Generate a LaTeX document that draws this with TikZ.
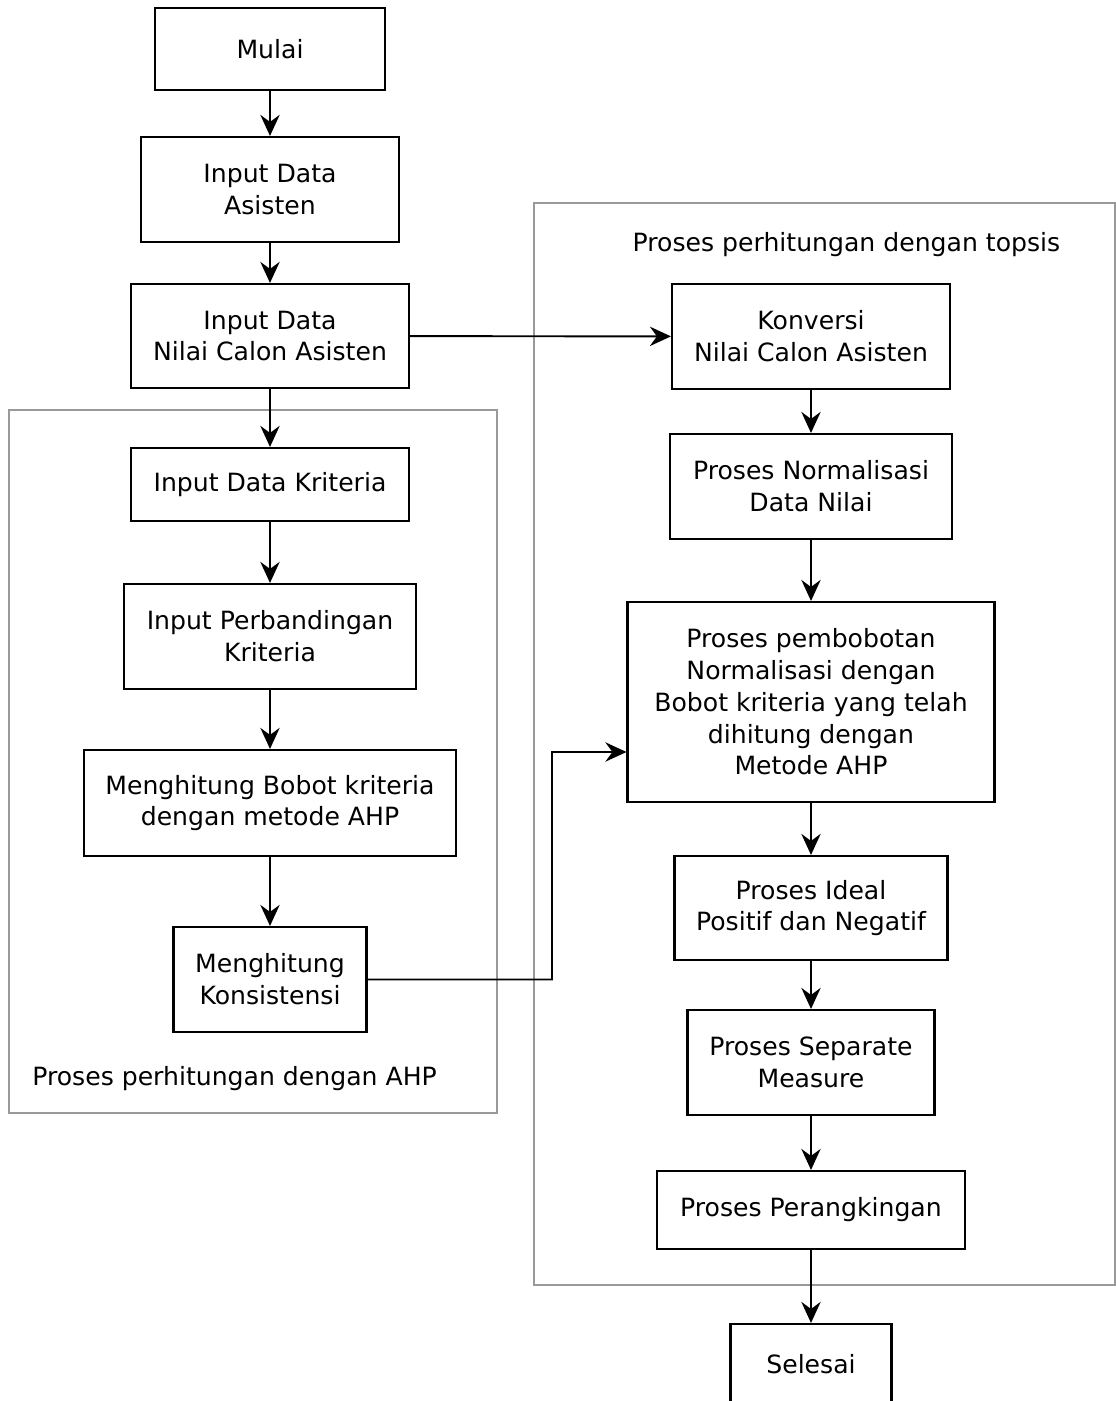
\documentclass[tikz,border=0pt]{standalone}
\usepackage{fontspec}
\setmainfont{DejaVu Sans}
\usetikzlibrary{arrows.meta}

\begin{document}
\begin{tikzpicture}[x=0.02cm,y=-0.02cm,
  font=\fontsize{14.3}{18.1}\selectfont,
  box/.style={draw,line width=1.2pt,align=center,inner sep=2pt},
  frame/.style={draw=black!40,line width=0.9pt,inner sep=0pt},
  conn/.style={draw,line width=1.1pt,-{Stealth[length=12pt,width=11pt,inset=4pt]}}]
\useasboundingbox (0,0) rectangle (1116,1401);

% the two groups
\node[frame,minimum width=9.76cm,minimum height=14.06cm] (ahpframe) at (253,761.5) {};
\node[frame,minimum width=11.62cm,minimum height=21.64cm] (topsisframe) at (824.5,744) {};
\node (topsislabel) at (846.5,245) {Proses perhitungan dengan topsis};
\node[anchor=west,inner sep=0pt] (ahplabel) at (32,1079) {Proses perhitungan dengan AHP};

% left column
\node[box,minimum width=4.6cm,minimum height=1.64cm] (mulai) at (270,49) {Mulai};
\node[box,minimum width=5.16cm,minimum height=2.1cm] (asisten) at (270,189.5) {Input Data\\Asisten};
\node[box,minimum width=5.56cm,minimum height=2.08cm] (nilai) at (270,336) {Input Data\\Nilai Calon Asisten};
\node[box,minimum width=5.56cm,minimum height=1.46cm] (kriteria) at (270,484.5) {Input Data Kriteria};
\node[box,minimum width=5.84cm,minimum height=2.1cm] (banding) at (270,636.5) {Input Perbandingan\\Kriteria};
\node[box,minimum width=7.44cm,minimum height=2.12cm] (bobot) at (270,803) {Menghitung Bobot kriteria\\dengan metode AHP};
\node[box,minimum width=3.86cm,minimum height=2.1cm] (konsistensi) at (270,979.5) {Menghitung\\Konsistensi};

% right column
\node[box,minimum width=5.56cm,minimum height=2.1cm] (konversi) at (811,336.5) {Konversi\\Nilai Calon Asisten};
\node[box,minimum width=5.64cm,minimum height=2.1cm] (normalisasi) at (811,486.5) {Proses Normalisasi\\Data Nilai};
\node[box,minimum width=7.34cm,minimum height=4cm] (pembobotan) at (811,702) {Proses pembobotan\\Normalisasi dengan\\Bobot kriteria yang telah\\dihitung dengan\\Metode AHP};
\node[box,minimum width=5.46cm,minimum height=2.08cm] (ideal) at (811,908) {Proses Ideal\\Positif dan Negatif};
\node[box,minimum width=4.94cm,minimum height=2.1cm] (separate) at (811,1062.5) {Proses Separate\\Measure};
\node[box,minimum width=6.16cm,minimum height=1.56cm] (rangking) at (811,1210) {Proses Perangkingan};
\node[box,minimum width=3.22cm,minimum height=1.6cm] (selesai) at (811,1364) {Selesai};

\coordinate (elbow) at (552,752);

\path[conn] (mulai) -- (asisten);
\path[conn] (asisten) -- (nilai);
\path[conn] (nilai) -- (kriteria);
\path[conn] (kriteria) -- (banding);
\path[conn] (banding) -- (bobot);
\path[conn] (bobot) -- (konsistensi);
\path[conn] (nilai) -- (konversi);
\path[conn] (konversi) -- (normalisasi);
\path[conn] (normalisasi) -- (pembobotan);
\path[conn] (pembobotan) -- (ideal);
\path[conn] (ideal) -- (separate);
\path[conn] (separate) -- (rangking);
\path[conn] (rangking) -- (selesai);
\path[conn] (konsistensi.east) -| (elbow) -- ([yshift=-1cm]pembobotan.west);
\end{tikzpicture}
\end{document}
